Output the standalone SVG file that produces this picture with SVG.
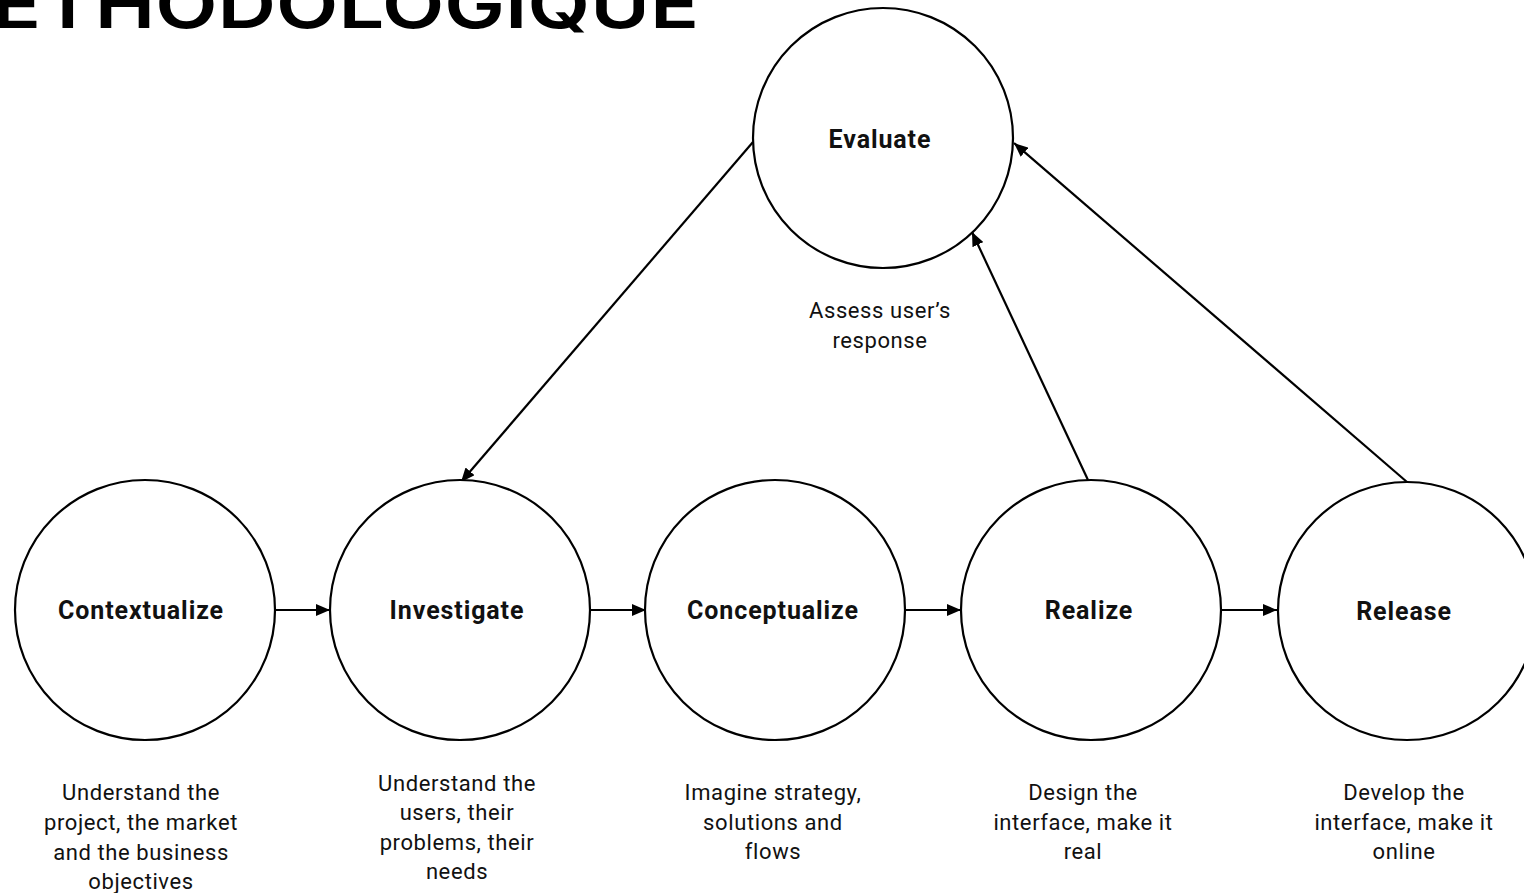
<svg xmlns="http://www.w3.org/2000/svg" width="1524" height="893" viewBox="0 0 1524 893">
  <defs>
    <marker id="arrow" viewBox="0 0 14 12" refX="14" refY="6" markerWidth="14" markerHeight="12" markerUnits="userSpaceOnUse" orient="auto">
      <path d="M0,0 L14,6 L0,12 Z" fill="#000"/>
    </marker>
    <style>
      .step { fill: #fff; stroke: #000; stroke-width: 2.2; }
      .name { font-family: Roboto, "Liberation Sans", sans-serif; font-weight: 700; font-size: 25px; letter-spacing: 0.9px; fill: #111; text-anchor: middle; }
      .desc { font-family: Roboto, "Liberation Sans", sans-serif; font-size: 22px; letter-spacing: 0.6px; fill: #111; text-anchor: middle; }
      .link { fill: none; stroke: #000; stroke-width: 2.2; marker-end: url(#arrow); }
      .title { font-family: Inter, "Liberation Sans", sans-serif; font-weight: 600; font-size: 66px; fill: #000; }
    </style>
  </defs>
  <rect width="1524" height="893" fill="#fff"/>

  <!-- heading, cut by the top edge -->
  <text class="title" x="-8" y="28" textLength="707" lengthAdjust="spacingAndGlyphs">ETHODOLOGIQUE</text>

  <!-- connectors -->
  <g id="connectors">
    <line class="link" x1="275" y1="610" x2="330" y2="610"/>
    <line class="link" x1="590" y1="610" x2="646" y2="610"/>
    <line class="link" x1="905" y1="610" x2="961" y2="610"/>
    <line class="link" x1="1221" y1="610" x2="1277" y2="610"/>
    <line class="link" x1="753" y1="142" x2="461" y2="482"/>
    <line class="link" x1="1088" y1="480" x2="972" y2="232"/>
    <line class="link" x1="1407" y1="482" x2="1014" y2="143"/>
  </g>

  <g id="evaluate">
    <circle class="step" cx="883" cy="138" r="130"/>
    <text class="name" x="880" y="148">Evaluate</text>
    <text class="desc" x="880" y="318">Assess user’s</text>
    <text class="desc" x="880" y="348">response</text>
  </g>

  <g id="contextualize">
    <circle class="step" cx="145" cy="610" r="130"/>
    <text class="name" x="141" y="619">Contextualize</text>
    <text class="desc" x="141" y="800">Understand the</text>
    <text class="desc" x="141" y="830">project, the market</text>
    <text class="desc" x="141" y="860">and the business</text>
    <text class="desc" x="141" y="889">objectives</text>
  </g>

  <g id="investigate">
    <circle class="step" cx="460" cy="610" r="130"/>
    <text class="name" x="457" y="619">Investigate</text>
    <text class="desc" x="457" y="791">Understand the</text>
    <text class="desc" x="457" y="820">users, their</text>
    <text class="desc" x="457" y="850">problems, their</text>
    <text class="desc" x="457" y="879">needs</text>
  </g>

  <g id="conceptualize">
    <circle class="step" cx="775" cy="610" r="130"/>
    <text class="name" x="773" y="619">Conceptualize</text>
    <text class="desc" x="773" y="800">Imagine strategy,</text>
    <text class="desc" x="773" y="830">solutions and</text>
    <text class="desc" x="773" y="859">flows</text>
  </g>

  <g id="realize">
    <circle class="step" cx="1091" cy="610" r="130"/>
    <text class="name" x="1089" y="619">Realize</text>
    <text class="desc" x="1083" y="800">Design the</text>
    <text class="desc" x="1083" y="830">interface, make it</text>
    <text class="desc" x="1083" y="859">real</text>
  </g>

  <g id="release">
    <circle class="step" cx="1407" cy="611" r="129"/>
    <text class="name" x="1404" y="620">Release</text>
    <text class="desc" x="1404" y="800">Develop the</text>
    <text class="desc" x="1404" y="830">interface, make it</text>
    <text class="desc" x="1404" y="859">online</text>
  </g>
</svg>
